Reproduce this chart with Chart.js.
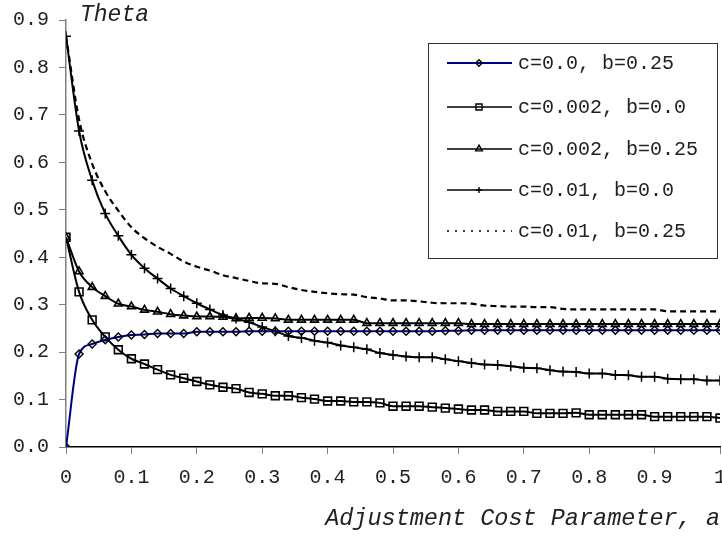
<!DOCTYPE html>
<html><head><meta charset="utf-8">
<script src="https://cdn.jsdelivr.net/npm/chart.js@4.4.1/dist/chart.umd.min.js"></script>
<style>
html,body{margin:0;padding:0;background:#fff;overflow:hidden;}
#wrap{position:relative;width:760px;height:538px;}
</style></head><body>
<div id="wrap"><canvas id="c" width="760" height="538"></canvas></div>
<script>
const adjustmentA = [0,0.02,0.04,0.06,0.08,0.1,0.12,0.14,0.16,0.18,0.2,0.22,0.24,0.26,0.28,0.3,0.32,0.34,0.36,0.38,0.4,0.42,0.44,0.46,0.48,0.5,0.52,0.54,0.56,0.58,0.6,0.62,0.64,0.66,0.68,0.7,0.72,0.74,0.76,0.78,0.8,0.82,0.84,0.86,0.88,0.9,0.92,0.94,0.96,0.98,1];

const thetaC0_B025 = [0,0.196,0.217,0.226,0.232,0.236,0.237,0.239,0.239,0.239,0.243,0.243,0.243,0.243,0.244,0.244,0.244,0.244,0.244,0.244,0.244,0.244,0.244,0.244,0.244,0.244,0.244,0.244,0.244,0.245,0.245,0.246,0.246,0.246,0.246,0.246,0.246,0.246,0.246,0.246,0.246,0.246,0.246,0.246,0.246,0.246,0.246,0.246,0.246,0.246,0.246];

const thetaC002_B0 = [0.442,0.327,0.268,0.232,0.205,0.186,0.175,0.163,0.152,0.145,0.138,0.131,0.126,0.123,0.115,0.112,0.108,0.108,0.104,0.101,0.097,0.097,0.095,0.095,0.093,0.086,0.086,0.086,0.084,0.082,0.080,0.078,0.078,0.075,0.075,0.075,0.071,0.071,0.071,0.072,0.068,0.068,0.068,0.068,0.068,0.064,0.064,0.064,0.064,0.064,0.061];

const thetaC002_B025 = [0.442,0.37,0.337,0.318,0.302,0.296,0.289,0.285,0.28,0.277,0.275,0.275,0.274,0.271,0.272,0.272,0.271,0.268,0.268,0.268,0.268,0.268,0.268,0.261,0.261,0.261,0.261,0.261,0.261,0.261,0.261,0.259,0.259,0.259,0.259,0.259,0.259,0.259,0.259,0.259,0.259,0.259,0.259,0.259,0.259,0.259,0.259,0.259,0.259,0.259,0.259];

const thetaC01_B0 = [0.866,0.666,0.562,0.492,0.445,0.405,0.377,0.355,0.334,0.318,0.303,0.29,0.278,0.271,0.263,0.253,0.244,0.234,0.23,0.224,0.22,0.214,0.21,0.206,0.198,0.194,0.191,0.189,0.189,0.185,0.181,0.177,0.174,0.173,0.17,0.167,0.166,0.162,0.159,0.158,0.155,0.155,0.152,0.151,0.148,0.148,0.144,0.143,0.143,0.14,0.14];

const thetaC01_B025 = [0.866,0.69,0.597,0.539,0.498,0.463,0.44,0.422,0.407,0.391,0.38,0.372,0.362,0.356,0.35,0.345,0.344,0.337,0.331,0.327,0.324,0.322,0.321,0.316,0.313,0.309,0.309,0.307,0.304,0.303,0.303,0.302,0.298,0.297,0.296,0.296,0.295,0.295,0.291,0.29,0.29,0.29,0.29,0.29,0.29,0.29,0.286,0.286,0.286,0.286,0.286];

const seriesNames = ["c=0.0, b=0.25","c=0.002, b=0.0","c=0.002, b=0.25","c=0.01, b=0.0","c=0.01, b=0.25"];
const xTickLabels = ["0","0.1","0.2","0.3","0.4","0.5","0.6","0.7","0.8","0.9","1"];
const yTickLabels = ["0.0","0.1","0.2","0.3","0.4","0.5","0.6","0.7","0.8","0.9"];
const yAxisTitle = "Theta";
const xAxisTitle = "Adjustment Cost Parameter, a";

const FONT = "'Liberation Mono','Courier New',monospace";
const toPts = arr => adjustmentA.map((x,i)=>({x:x,y:arr[i]}));

const datasets = [
  {label:seriesNames[0], data:toPts(thetaC0_B025), borderColor:'#000080', borderWidth:2,
   pointStyle:'rectRot', pointRadius:4, pointBorderColor:'#000', pointBorderWidth:1.4, pointBackgroundColor:'rgba(0,0,0,0)',
   legendRadius:3.2, legendLineWidth:2},
  {label:seriesNames[1], data:toPts(thetaC002_B0), borderColor:'#000', borderWidth:2,
   pointStyle:'rect', pointRadius:5.5, pointBorderColor:'#000', pointBorderWidth:1.6, pointBackgroundColor:'rgba(0,0,0,0)',
   legendRadius:4.3, legendLineWidth:1.5},
  {label:seriesNames[2], data:toPts(thetaC002_B025), borderColor:'#000', borderWidth:2,
   pointStyle:'triangle', pointRadius:4.5, pointBorderColor:'#000', pointBorderWidth:1.6, pointBackgroundColor:'rgba(0,0,0,0)',
   legendRadius:3.8, legendLineWidth:1.5},
  {label:seriesNames[3], data:toPts(thetaC01_B0), borderColor:'#000', borderWidth:2,
   pointStyle:'cross', pointRadius:5, pointBorderColor:'#000', pointBorderWidth:1.5, pointBackgroundColor:'rgba(0,0,0,0)',
   legendRadius:3, legendLineWidth:1.5},
  {label:seriesNames[4], data:toPts(thetaC01_B025), borderColor:'#000', borderWidth:2.2, borderDash:[6,4],
   pointRadius:0, pointStyle:false,
   legendRadius:0, legendLineWidth:1.5, legendDash:[2,6]}
];
datasets.forEach(d=>{ d.fill=false; d.cubicInterpolationMode='monotone'; d.tension=0.4; d.pointHoverRadius=d.pointRadius; });

function drawMarker(ctx, style, r, x, y){
  ctx.beginPath();
  if(style==='rectRot'){ ctx.moveTo(x,y-r); ctx.lineTo(x+r,y); ctx.lineTo(x,y+r); ctx.lineTo(x-r,y); ctx.closePath(); }
  else if(style==='rect'){ const s=r*Math.SQRT1_2; ctx.rect(x-s,y-s,2*s,2*s); }
  else if(style==='triangle'){ ctx.moveTo(x,y-r); ctx.lineTo(x+r*0.866,y+r*0.5); ctx.lineTo(x-r*0.866,y+r*0.5); ctx.closePath(); }
  else if(style==='cross'){ ctx.moveTo(x,y-r); ctx.lineTo(x,y+r); ctx.moveTo(x-r,y); ctx.lineTo(x+r,y); }
  ctx.stroke();
}

const decor = {
  id:'decor',
  afterDraw(chart){
    const ctx = chart.ctx;
    ctx.save();
    ctx.fillStyle = '#222';
    ctx.font = "italic 23px " + FONT;
    ctx.textAlign='left'; ctx.textBaseline='alphabetic';
    ctx.fillText(yAxisTitle, 80, 21);
    ctx.strokeStyle='#333'; ctx.lineWidth=1;
    ctx.strokeRect(428.5,43.5,289,215);
    const rows=[63,107,149,190,231];
    ctx.font = "20px " + FONT;
    ctx.textBaseline='middle';
    chart.data.datasets.forEach((ds,i)=>{
      const y=rows[i];
      ctx.save();
      ctx.strokeStyle=ds.borderColor; ctx.lineWidth=ds.legendLineWidth;
      ctx.setLineDash(ds.legendDash||[]);
      ctx.beginPath(); ctx.moveTo(447,y); ctx.lineTo(512,y); ctx.stroke();
      ctx.setLineDash([]);
      if(ds.pointRadius>0){ ctx.strokeStyle='#000'; ctx.lineWidth=1.4; drawMarker(ctx, ds.pointStyle, ds.legendRadius, 479, y); }
      ctx.restore();
      ctx.fillStyle='#222';
      ctx.fillText(ds.label, 518, y+1);
    });
    ctx.restore();
  }
};

new Chart(document.getElementById('c'), {
  type:'line',
  data:{datasets:datasets},
  options:{
    responsive:false, animation:false, devicePixelRatio:1,
    layout:{padding:{left:0,right:40,top:0,bottom:0}},
    plugins:{legend:{display:false}, tooltip:{enabled:false}},
    scales:{
      x:{type:'linear', min:0, max:1,
        afterFit:s=>{s.height=91;},
        grid:{drawOnChartArea:false, drawTicks:true, tickLength:7, color:'#808080'},
        border:{display:true, color:'#000', width:1.5},
        ticks:{stepSize:0.1, padding:12, color:'#222', font:{family:FONT,size:20},
          callback:(v,i)=>xTickLabels[i], maxRotation:0, autoSkip:false},
        title:{display:true, text:xAxisTitle, align:'end', color:'#222',
          font:{family:FONT,size:23.5,style:'italic'}, padding:{top:0,bottom:5}}
      },
      y:{type:'linear', min:0, max:0.9,
        afterFit:s=>{s.width=66;},
        grid:{drawOnChartArea:false, drawTicks:true, tickLength:7, color:'#808080'},
        border:{display:true, color:'#808080', width:1.5},
        ticks:{stepSize:0.1, padding:10, color:'#222', font:{family:FONT,size:20,lineHeight:1},
          callback:(v,i)=>yTickLabels[i], autoSkip:false}
      }
    }
  },
  plugins:[decor]
});
</script>
</body></html>
